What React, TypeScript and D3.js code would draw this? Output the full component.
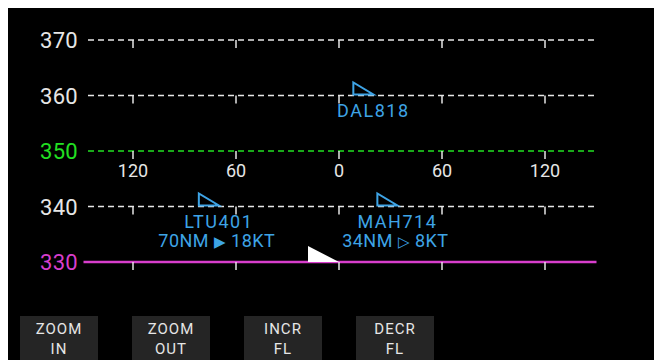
import React from "react";
import * as d3 from "d3";

const flightLevels = [370, 360, 350, 340, 330];
const scaleTicks = [-120, -60, 0, 60, 120];
const selectedFL = 350;
const ownFL = 330;
const ownDist = 0;
const trafficCallsigns = ["DAL818", "LTU401", "MAH714"];
const trafficFL = [360, 340, 340];
const trafficDist = [20, -70, 34];
const trafficRange = ["", "70NM", "34NM"];
const trafficClosing = [null, true, false];
const trafficSpeed = ["", "18KT", "8KT"];
const buttonLine1 = ["ZOOM", "ZOOM", "INCR", "DECR"];
const buttonLine2 = ["IN", "OUT", "FL", "FL"];

const W = 654;
const H = 352;
const FONT = "Roboto, 'DejaVu Sans', sans-serif";
const WHITE = "#e6e6e6";
const GREEN = "#22e022";
const MAGENTA = "#d83ecc";
const BLUE = "#3ea4e6";

export default function App() {
  const x = d3.scaleLinear().domain([-150, 150]).range([81.5, 596.5]);
  const y = d3.scaleLinear().domain([330, 370]).range([262, 40]);
  const tri = d3.line();
  const btnX = d3
    .scaleBand()
    .domain(d3.range(4).map(String))
    .range([20, 434])
    .paddingInner(0.3036)
    .paddingOuter(0);

  return (
    <svg width={W} height={H} style={{ display: "block", background: "#000" }}>
      <g transform="translate(-8,-8)">
        <rect x={8} y={8} width={W} height={H} fill="#000" />
        {flightLevels.map((fl) => {
          const col = fl === selectedFL ? GREEN : fl === ownFL ? MAGENTA : WHITE;
          const yy = y(fl);
          return (
            <g key={fl}>
              <text x={78} y={yy + 8} fill={col} fontSize={22} fontFamily={FONT} textAnchor="end" letterSpacing={0.3}>
                {fl}
              </text>
              {fl === ownFL ? (
                <line x1={x(-150) + 2} x2={x(150)} y1={yy} y2={yy} stroke={col} strokeWidth={2.5} />
              ) : (
                <line x1={88} x2={x(150)} y1={yy} y2={yy} stroke={col} strokeWidth={1.6} strokeDasharray="6,4" />
              )}
              {scaleTicks.map((t) => (
                <line key={t} x1={x(t)} x2={x(t)} y1={yy} y2={yy + 8} stroke={WHITE} strokeWidth={1.5} />
              ))}
            </g>
          );
        })}
        {scaleTicks.map((t) => (
          <text key={t} x={x(t)} y={177} fill={WHITE} fontSize={18} fontFamily={FONT} textAnchor="middle">
            {Math.abs(t)}
          </text>
        ))}
        {/* own aircraft */}
        <path
          d={tri([
            [x(ownDist), y(ownFL)],
            [x(ownDist) - 31, y(ownFL)],
            [x(ownDist) - 31, y(ownFL) - 16],
          ]) + "Z"}
          fill="#ffffff"
        />
        {trafficCallsigns.map((cs, i) => {
          const px = x(trafficDist[i]);
          const py = y(trafficFL[i]);
          return (
            <g key={cs}>
              <path
                d={tri([
                  [px, py - 1],
                  [px - 20, py - 1],
                  [px - 20, py - 13],
                ]) + "Z"}
                fill="none"
                stroke={BLUE}
                strokeWidth={2}
                strokeLinejoin="miter"
              />
              <text x={px} y={py + 21} fill={BLUE} fontSize={18} fontFamily={FONT} textAnchor="middle" letterSpacing={1.5}>
                {cs}
              </text>
              {trafficRange[i] && (
                <text x={px - 2} y={py + 40} fill={BLUE} fontSize={18} fontFamily={FONT} textAnchor="middle" letterSpacing={0.5}>
                  {trafficRange[i] + " "}
                  <tspan fontSize={15} fontFamily="'DejaVu Sans', sans-serif">
                    {trafficClosing[i] ? "▶" : "▷"}
                  </tspan>
                  {" " + trafficSpeed[i]}
                </text>
              )}
            </g>
          );
        })}
        {buttonLine1.map((b, i) => {
          const bx = btnX(String(i))!;
          const bw = btnX.bandwidth();
          return (
            <g key={i}>
              <rect x={bx} y={316} width={bw} height={44} fill="#252525" />
              <text x={bx + bw / 2} y={334} fill={WHITE} fontSize={15} fontFamily={FONT} textAnchor="middle" letterSpacing={1}>
                {b}
              </text>
              <text x={bx + bw / 2} y={354} fill={WHITE} fontSize={15} fontFamily={FONT} textAnchor="middle" letterSpacing={1}>
                {buttonLine2[i]}
              </text>
            </g>
          );
        })}
      </g>
    </svg>
  );
}
